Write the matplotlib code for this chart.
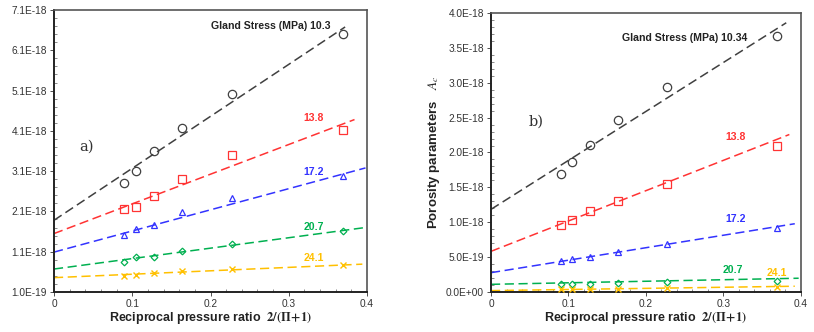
import numpy as np
import matplotlib
matplotlib.use("Agg")
import matplotlib.pyplot as plt
from matplotlib.ticker import MultipleLocator, FuncFormatter, FixedLocator

plt.rcParams['font.family'] = ['Liberation Sans', 'DejaVu Sans']
plt.rcParams['mathtext.fontset'] = 'stix'

# reciprocal pressure ratio (shared)
x = [0.09, 0.105, 0.128, 0.164, 0.227, 0.369]

stress_labels = ["10.3", "13.8", "17.2", "20.7", "24.1"]
colors = ["#404040", "#FF3333", "#3333FF", "#00B050", "#FFC000"]
markers = ["o", "s", "^", "D", "x"]
msizes = [6, 6, 4.8, 3.4, 4.8]

# panel a) measured values (x1e-18)
a_vals = [
    [2.81, 3.11, 3.60, 4.18, 5.01, 6.50],
    [2.15, 2.22, 2.49, 2.90, 3.50, 4.13],
    [1.51, 1.67, 1.76, 2.09, 2.44, 2.98],
    [0.85, 0.97, 0.96, 1.11, 1.30, 1.62],
    [0.49, 0.53, 0.57, 0.61, 0.67, 0.77],
]
# fitted lines a): intercept, slope, x end
a_icpt = [1.88, 1.55, 1.09, 0.67, 0.456]
a_slope = [12.9, 7.37, 5.25, 2.59, 0.85]
a_xend = [0.372, 0.384, 0.398, 0.398, 0.394]

# panel b) measured values (x1e-18)
b_vals = [
    [1.69, 1.87, 2.11, 2.46, 2.94, 3.67],
    [0.956, 1.037, 1.157, 1.31, 1.55, 2.10],
    [0.44, 0.473, 0.507, 0.569, 0.683, 0.918],
    [0.11, 0.11, 0.12, 0.124, 0.143, 0.162],
    [0.043, 0.043, 0.05, 0.05, 0.062, 0.072],
]
b_icpt = [1.185, 0.583, 0.277, 0.11, 0.02]
b_slope = [7.02, 4.35, 1.79, 0.22, 0.16]
b_xend = [0.381, 0.385, 0.392, 0.397, 0.392]

fig = plt.figure(figsize=(8.14, 3.32), dpi=100)
axa = fig.add_axes([0.0663, 0.1205, 0.3846, 0.8494])
axb = fig.add_axes([0.6032, 0.1205, 0.3808, 0.8404])


def draw(ax, vals, icpt, slope, xend):
    for i in range(5):
        y = np.array(vals[i]) * 1e-18
        if markers[i] == "x":
            ax.plot(x, y, ls="none", marker="x", ms=msizes[i], mew=1.0,
                    color=colors[i], zorder=3)
        else:
            ax.plot(x, y, ls="none", marker=markers[i], ms=msizes[i], mew=0.9,
                    mfc="none", mec=colors[i], zorder=3)
        xl = np.array([0, xend[i]])
        ax.plot(xl, (icpt[i] + slope[i] * xl) * 1e-18, ls=(0, (6, 3)), lw=1.1,
                color=colors[i], zorder=2)


def style(ax):
    ax.set_xlim(0, 0.4)
    ax.xaxis.set_major_locator(FixedLocator([0, 0.1, 0.2, 0.3, 0.4]))
    ax.xaxis.set_minor_locator(FixedLocator(np.arange(0, 0.41, 0.02)))
    ax.xaxis.set_major_formatter(FuncFormatter(lambda v, p: "0" if v == 0 else f"{v:.1f}"))
    ax.tick_params(which="major", direction="out", length=3, width=0.6,
                   labelsize=7.3, colors="#333333", pad=2)
    ax.tick_params(which="minor", direction="in", length=2.5, width=0.6,
                   color="#777777")
    for s in ["left", "bottom"]:
        ax.spines[s].set_linewidth(1.4)
        ax.spines[s].set_color("#222222")
    for s in ["top", "right"]:
        ax.spines[s].set_linewidth(1.2)
        ax.spines[s].set_color("#555555")
    ax.set_xlabel(r"Reciprocal pressure ratio  $\mathbf{2/(\Pi\!+\!1)}$",
                  fontsize=9, fontweight="bold", color="#222222", labelpad=1)


def sci(v, p):
    return f"{v:.1E}".replace("E-0", "E-")


# panel a
draw(axa, a_vals, a_icpt, a_slope, a_xend)
style(axa)
axa.set_ylim(0.1e-18, 7.1e-18)
axa.yaxis.set_major_locator(FixedLocator(np.arange(0.1, 7.15, 1.0) * 1e-18))
axa.yaxis.set_minor_locator(FixedLocator(np.arange(0.1, 7.15, 0.2) * 1e-18))
axa.yaxis.set_major_formatter(FuncFormatter(sci))
axa.text(0.353, 6.70e-18, "Gland Stress (MPa) " + stress_labels[0], ha="right", va="center",
         fontsize=7.6, fontweight="bold", color="#222222")
a_lab = [(0.332, 4.41), (0.332, 3.07), (0.332, 1.72), (0.332, 0.95)]
for i, (lx, ly) in enumerate(a_lab):
    axa.text(lx, ly * 1e-18, stress_labels[i + 1], ha="center", va="center",
             fontsize=7.6, fontweight="bold", color=colors[i + 1])
axa.text(0.032, 3.70e-18, "a)", family="DejaVu Serif", fontsize=10.5, color="#333333",
         ha="left", va="center")

# panel b
draw(axb, b_vals, b_icpt, b_slope, b_xend)
style(axb)
axb.set_ylim(0, 4.0e-18)
axb.yaxis.set_major_locator(FixedLocator(np.arange(0, 4.05, 0.5) * 1e-18))
axb.yaxis.set_minor_locator(FixedLocator(np.arange(0, 4.05, 0.1) * 1e-18))
axb.yaxis.set_major_formatter(FuncFormatter(sci))
axb.set_ylabel(r"Porosity parameters   $A_c$", fontsize=9.5, fontweight="bold",
               color="#222222", labelpad=3)
axb.text(0.331, 3.64e-18, "Gland Stress (MPa) 10.34", ha="right", va="center",
         fontsize=7.6, fontweight="bold", color="#222222")
b_lab = [(0.315, 2.22), (0.315, 1.05), (0.312, 0.32), (0.369, 0.27)]
for i, (lx, ly) in enumerate(b_lab):
    axb.text(lx, ly * 1e-18, stress_labels[i + 1], ha="center", va="center",
             fontsize=7.6, fontweight="bold", color=colors[i + 1])
axb.text(0.048, 2.44e-18, "b)", family="DejaVu Serif", fontsize=10.5, color="#333333",
         ha="left", va="center")

fig.savefig("out.png", dpi=100)
